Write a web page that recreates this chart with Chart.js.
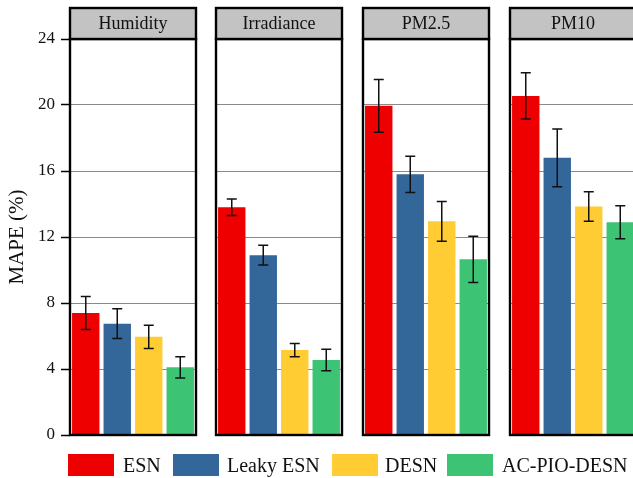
<!DOCTYPE html>
<html>
<head>
<meta charset="utf-8">
<script src="https://cdn.jsdelivr.net/npm/chart.js@4.4.1/dist/chart.umd.min.js"></script>
<style>
  html, body { margin: 0; padding: 0; width: 633px; height: 478px; overflow: hidden; background: #fff; }
  canvas { position: absolute; top: 0; }
  .lg-box { position: absolute; top: 454px; width: 46px; height: 22px; }
  .lg-txt { position: absolute; top: 453px; font: 20px 'Liberation Serif', 'Times New Roman', serif; line-height: 24px; color: #111; white-space: nowrap; }
</style>
</head>
<body>
<canvas id="p0" width="198" height="478" style="left:0px"></canvas>
<canvas id="p1" width="131" height="478" style="left:214px"></canvas>
<canvas id="p2" width="131" height="478" style="left:361px"></canvas>
<canvas id="p3" width="131" height="478" style="left:508px"></canvas>
<div id="legend"></div>
<script>
// Panels (one per measured quantity) and the four models compared in each
const panels = ['Humidity', 'Irradiance', 'PM2.5', 'PM10'];
const models = ['ESN', 'Leaky ESN', 'DESN', 'AC-PIO-DESN'];
const modelColors = ['#ee0000', '#336699', '#ffcc33', '#3cc373'];

// Mean MAPE (%) per panel, one array per model
const esn      = [7.4, 13.8, 19.95, 20.55];
const leakyEsn = [6.75, 10.9, 15.8, 16.8];
const desn     = [5.95, 5.15, 12.95, 13.85];
const acPioDesn = [4.1, 4.55, 10.65, 12.9];

// Half-width of the error bars, same layout
const esnErr      = [1.0, 0.5, 1.6, 1.4];
const leakyEsnErr = [0.9, 0.6, 1.1, 1.75];
const desnErr     = [0.7, 0.4, 1.2, 0.9];
const acPioDesnErr = [0.65, 0.65, 1.4, 1.0];

const yTicks = [0, 4, 8, 12, 16, 20, 24];

const means = [esn, leakyEsn, desn, acPioDesn];
const errs = [esnErr, leakyEsnErr, desnErr, acPioDesnErr];
const FONT = "'Liberation Serif', 'Times New Roman', serif";

// Whiskers drawn from the bar value +/- its error
const errorBars = {
  id: 'errorBars',
  afterDatasetsDraw(chart) {
    const ctx = chart.ctx;
    const y = chart.scales.y;
    const meta = chart.getDatasetMeta(0);
    const ds = chart.data.datasets[0];
    ctx.save();
    ctx.strokeStyle = '#111';
    ctx.lineWidth = 1.5;
    meta.data.forEach((bar, i) => {
      const v = ds.data[i], e = ds.errors[i];
      const yt = y.getPixelForValue(v + e);
      const yb = y.getPixelForValue(v - e);
      const x = bar.x;
      ctx.beginPath();
      ctx.moveTo(x, yt); ctx.lineTo(x, yb);
      ctx.moveTo(x - 5, yt); ctx.lineTo(x + 5, yt);
      ctx.moveTo(x - 5, yb); ctx.lineTo(x + 5, yb);
      ctx.stroke();
    });
    ctx.restore();
  }
};

// Panel frame and grey strip header carrying the panel name
const panelFrame = {
  id: 'panelFrame',
  afterDraw(chart, args, opts) {
    const ctx = chart.ctx;
    const a = chart.chartArea;
    ctx.save();
    ctx.lineWidth = 2.4;
    ctx.strokeStyle = '#000';
    ctx.strokeRect(a.left, a.top, a.right - a.left, a.bottom - a.top);
    const hTop = 8;
    ctx.fillStyle = '#c3c3c3';
    ctx.fillRect(a.left, hTop, a.right - a.left, a.top - hTop);
    ctx.strokeRect(a.left, hTop, a.right - a.left, a.top - hTop);
    ctx.fillStyle = '#111';
    ctx.font = '18px ' + FONT;
    ctx.textAlign = 'center';
    ctx.textBaseline = 'middle';
    ctx.fillText(opts.title, (a.left + a.right) / 2, (hTop + a.top) / 2 + 1);
    ctx.restore();
  }
};

panels.forEach((name, p) => {
  const first = p === 0;
  new Chart(document.getElementById('p' + p), {
    type: 'bar',
    data: {
      labels: models,
      datasets: [{
        data: means.map(m => m[p]),
        errors: errs.map(e => e[p]),
        backgroundColor: modelColors,
        borderWidth: 0,
        barPercentage: 0.87,
        categoryPercentage: 1.0
      }]
    },
    options: {
      responsive: false,
      animation: false,
      devicePixelRatio: 1,
      layout: { padding: { left: first ? 0 : 2, right: first ? 2 : 3, top: 39, bottom: 43 } },
      plugins: {
        legend: { display: false },
        tooltip: { enabled: false },
        panelFrame: { title: name }
      },
      scales: {
        x: { display: false },
        y: {
          min: 0, max: 24,
          afterBuildTicks: s => { s.ticks = yTicks.map(v => ({ value: v })); },
          afterFit: s => { s.width = first ? 70 : 0; },
          border: { display: false },
          grid: {
            color: '#8a8a8a',
            lineWidth: 1,
            drawTicks: first,
            tickLength: 9,
            tickColor: '#000',
            tickWidth: 1.5
          },
          ticks: {
            display: first,
            padding: 6,
            color: '#111',
            font: { family: FONT, size: 17 }
          },
          title: {
            display: first,
            text: 'MAPE (%)',
            color: '#111',
            padding: { top: 5, bottom: 0 },
            font: { family: FONT, size: 21 }
          }
        }
      }
    },
    plugins: [errorBars, panelFrame]
  });
});

// Shared legend along the bottom
const boxX = [68, 173, 332, 447];
const txtX = [123, 227, 385, 502];
const legend = document.getElementById('legend');
models.forEach((m, i) => {
  const b = document.createElement('div');
  b.className = 'lg-box';
  b.style.left = boxX[i] + 'px';
  b.style.background = modelColors[i];
  legend.appendChild(b);
  const t = document.createElement('div');
  t.className = 'lg-txt';
  t.style.left = txtX[i] + 'px';
  t.textContent = m;
  legend.appendChild(t);
});
</script>
</body>
</html>
